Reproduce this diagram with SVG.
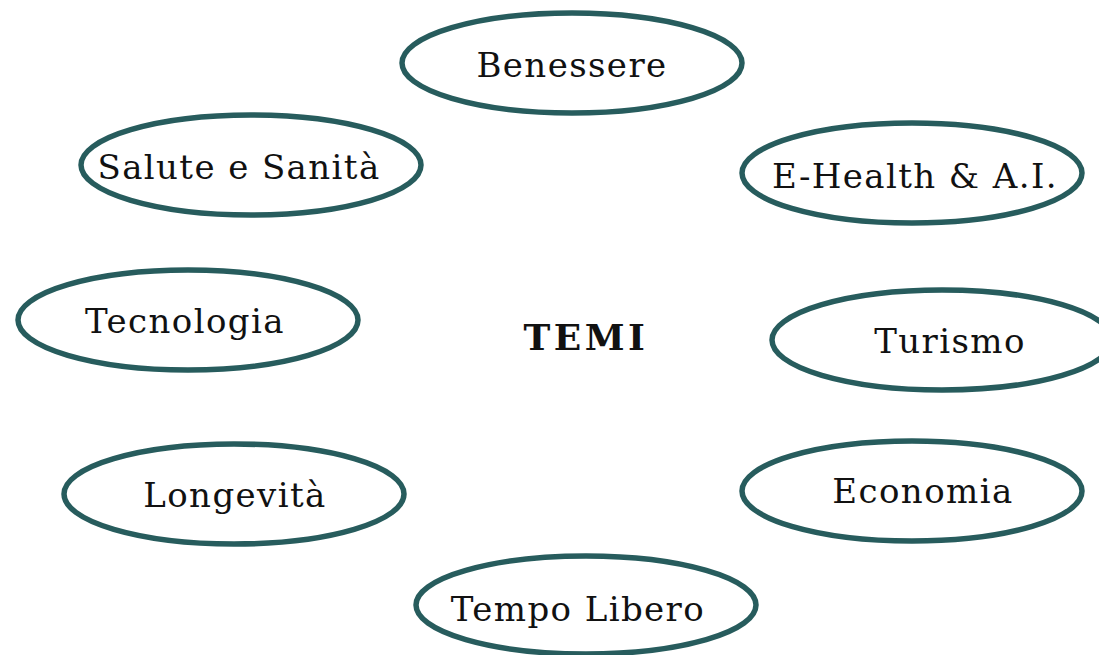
<svg xmlns="http://www.w3.org/2000/svg" width="1099" height="655" viewBox="0 0 1099 655">
<style>
.n{fill:#ffffff;stroke:#275c5d;stroke-width:5.5}
.t{font-family:"DejaVu Serif","Liberation Serif",serif;font-size:34px;fill:#111;text-anchor:middle;letter-spacing:1.4px}
.c{font-family:"DejaVu Serif","Liberation Serif",serif;font-size:36px;font-weight:bold;fill:#111;text-anchor:middle;letter-spacing:3.5px}
</style>
<rect width="1099" height="655" fill="#ffffff"/>
<g id="connectors"></g>
<g id="center"><text class="c" x="586" y="350">TEMI</text></g>
<g id="benessere"><ellipse class="n" cx="572" cy="63" rx="170" ry="50"/><text class="t" x="572" y="77">Benessere</text></g>
<g id="salute"><ellipse class="n" cx="251" cy="165" rx="170" ry="50"/><text class="t" x="239" y="179">Salute e Sanità</text></g>
<g id="ehealth"><ellipse class="n" cx="912" cy="173" rx="170" ry="50"/><text class="t" x="915" y="188">E-Health &amp; A.I.</text></g>
<g id="tecnologia"><ellipse class="n" cx="188" cy="320" rx="170" ry="50"/><text class="t" x="185" y="333">Tecnologia</text></g>
<g id="turismo"><ellipse class="n" cx="942" cy="340" rx="170" ry="50"/><text class="t" x="950" y="353">Turismo</text></g>
<g id="longevita"><ellipse class="n" cx="234" cy="494" rx="170" ry="50"/><text class="t" x="235" y="507">Longevità</text></g>
<g id="economia"><ellipse class="n" cx="912" cy="491" rx="170" ry="50"/><text class="t" x="923" y="503">Economia</text></g>
<g id="tempolibero"><ellipse class="n" cx="586" cy="605" rx="170" ry="49"/><text class="t" x="578" y="621">Tempo Libero</text></g>
</svg>
